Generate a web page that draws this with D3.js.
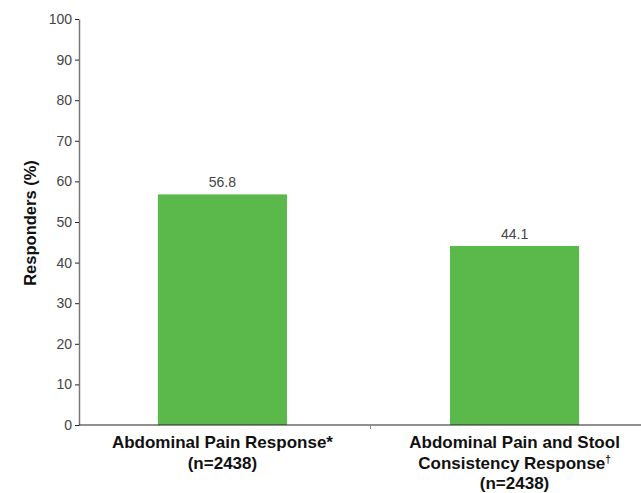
<!DOCTYPE html>
<html>
<head>
<meta charset="utf-8">
<script src="https://cdn.jsdelivr.net/npm/d3@7"></script>
<style>
  body { margin: 0; background: #fff; }
  svg { font-family: "Liberation Sans", Arial, sans-serif; }
</style>
</head>
<body>
<div id="chart"></div>
<script>
var categories = ["pain", "painStool"];
var categoryLabels = [
    [["Abdominal Pain Response*", ""], ["(n=2438)", ""]],
    [["Abdominal Pain and Stool", ""], ["Consistency Response", "\u2020"], ["(n=2438)", ""]]
];
var values = [56.8, 44.1];
var yTicks = [0, 10, 20, 30, 40, 50, 60, 70, 80, 90, 100];

var margin = {top: 19, right: 0, bottom: 68, left: 79},
    width = 641 - margin.left - margin.right,
    height = 493 - margin.top - margin.bottom;

var svg = d3.select("#chart")
    .append("svg")
    .attr("width", 641)
    .attr("height", 493)
    .append("g")
    .attr("transform", "translate(" + margin.left + "," + margin.top + ")");

// band range runs past the right edge, like the original
var xAxis = d3.scaleBand()
    .range([0, 579])
    .paddingInner(0.558)
    .paddingOuter(0.27)
    .domain(categories);

var yAxis = d3.scaleLinear()
    .domain([0, 100])
    .range([height, 0]);

// bars
svg.selectAll(".bar")
    .data(values)
    .enter()
    .append("rect")
    .attr("x", function (d, i) { return xAxis(categories[i]); })
    .attr("y", function (d) { return yAxis(d); })
    .attr("width", xAxis.bandwidth())
    .attr("height", function (d) { return height - yAxis(d); })
    .attr("fill", "#5ab94a");

svg.selectAll(".val")
    .data(values)
    .enter()
    .append("text")
    .text(function (d) { return d.toFixed(1); })
    .attr("x", function (d, i) { return xAxis(categories[i]) + xAxis.bandwidth() / 2; })
    .attr("y", function (d) { return yAxis(d) - 7; })
    .attr("font-size", 14)
    .attr("fill", "#444")
    .style("text-anchor", "middle");

// y axis
var yg = svg.append("g")
    .call(d3.axisLeft(yAxis).tickValues(yTicks).tickSize(4).tickSizeOuter(0).tickPadding(3));
yg.select(".domain").attr("stroke", "#777").attr("stroke-width", 1.5);
yg.selectAll(".tick line").attr("stroke", "#222");
yg.selectAll(".tick text")
    .attr("font-size", 14)
    .attr("fill", "#444")
    .attr("font-family", "Liberation Sans, Arial, sans-serif");

// x axis line + divider tick
svg.append("line")
    .attr("x1", 0).attr("x2", width)
    .attr("y1", height).attr("y2", height)
    .attr("stroke", "#222").attr("stroke-width", 1.2);

var step = xAxis.step();
var divX = xAxis(categories[1]) - step * xAxis.paddingInner() / 2 + 2;
svg.append("line")
    .attr("x1", divX).attr("x2", divX)
    .attr("y1", height).attr("y2", height + 4)
    .attr("stroke", "#888").attr("stroke-width", 1);

// category labels
categoryLabels.forEach(function (lines, i) {
    var cx = xAxis(categories[i]) + xAxis.bandwidth() / 2;
    lines.forEach(function (line, j) {
        var t = svg.append("text")
            .attr("x", cx)
            .attr("y", height + 23 + j * 20.5)
            .attr("font-size", 17)
            .attr("font-weight", "bold")
            .attr("fill", "#111")
            .style("text-anchor", "middle");
        t.append("tspan").text(line[0]);
        if (line[1]) {
            t.append("tspan")
                .attr("font-size", 10)
                .attr("dy", -6)
                .text(line[1]);
        }
    });
});

// y title
svg.append("text")
    .attr("transform", "translate(-43," + (height / 2 + 1) + ") rotate(-90)")
    .attr("font-size", 16.5)
    .attr("font-weight", "bold")
    .attr("fill", "#111")
    .style("text-anchor", "middle")
    .text("Responders (%)");
</script>
</body>
</html>
